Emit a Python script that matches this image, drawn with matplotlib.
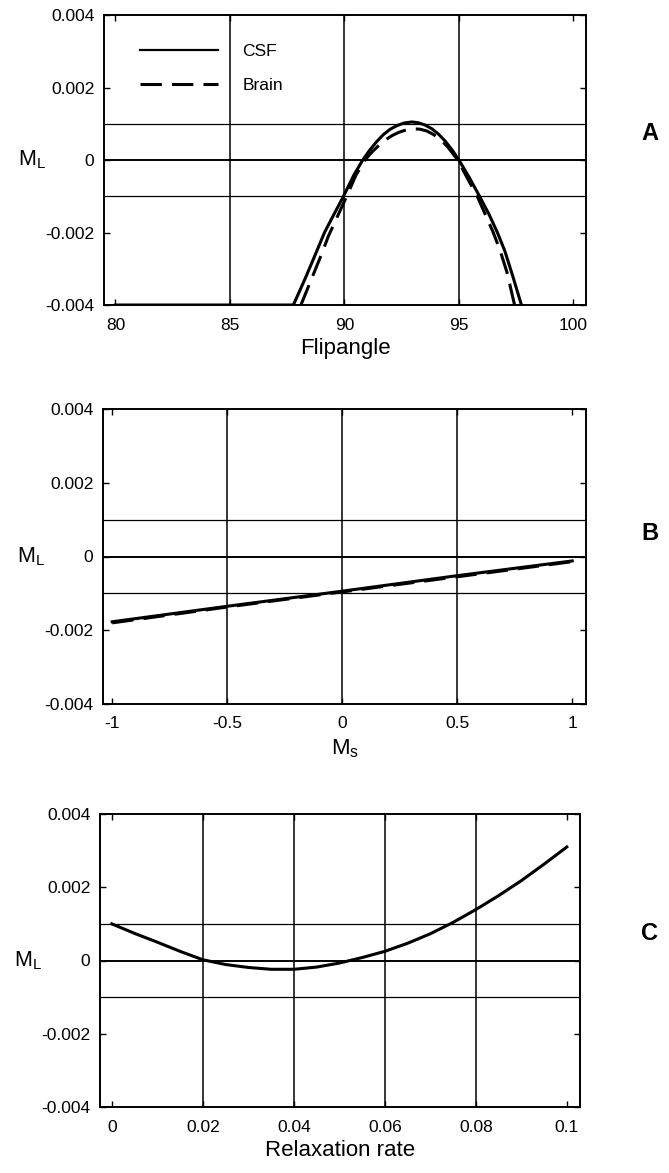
import numpy as np
import matplotlib
matplotlib.use('Agg')
import matplotlib.pyplot as plt
from matplotlib.lines import Line2D

plt.rcParams['font.family'] = ['Liberation Sans', 'DejaVu Sans']
plt.rcParams['mathtext.fontset'] = 'custom'
plt.rcParams['mathtext.rm'] = 'Liberation Sans'
plt.rcParams['mathtext.it'] = 'Liberation Sans'

# ---------------- data (M_L values given in units of 1e-3) ----------------
# Panel A: M_L vs flip angle
flip_csf = [80.0, 87.77, 88.3, 88.8, 89.13, 89.5, 89.96, 90.4, 90.8, 91.1, 91.4, 91.7,
            92.0, 92.3, 92.6, 92.95, 93.2, 93.5, 93.8, 94.1, 94.4, 94.7, 95.0, 95.45,
            95.9, 96.3, 96.68, 97.0, 97.35, 97.73]
ml_csf_a = [-4.0, -4.0, -3.25, -2.5, -2.0, -1.55, -1.0, -0.43, 0.0, 0.27, 0.50, 0.70,
            0.85, 0.95, 1.02, 1.05, 1.03, 0.97, 0.87, 0.72, 0.52, 0.28, 0.0, -0.48,
            -1.0, -1.48, -2.0, -2.5, -3.2, -4.0]
flip_brain = [88.10, 88.55, 89.0, 89.3, 89.7, 90.1, 90.5, 90.9, 91.2, 91.5, 91.8, 92.1,
              92.4, 92.7, 93.0, 93.3, 93.6, 93.9, 94.2, 94.5, 94.95, 95.35, 95.8, 96.15,
              96.5, 96.8, 97.1, 97.43]
ml_brain_a = [-4.0, -3.3, -2.6, -2.1, -1.55, -1.0, -0.42, 0.0, 0.22, 0.40, 0.56, 0.68,
              0.77, 0.83, 0.86, 0.85, 0.80, 0.70, 0.56, 0.37, 0.0, -0.48, -1.0, -1.5,
              -2.0, -2.5, -3.1, -4.0]

# Panel B: M_L vs M_s
ms_vals = [-1.0, -0.5, 0.0, 0.5, 1.0]
ml_csf_b = [-1.77, -1.35, -0.94, -0.52, -0.12]
ml_brain_b = [-1.80, -1.37, -0.96, -0.55, -0.14]

# Panel C: M_L vs relaxation rate
rate = [0.0, 0.005, 0.01, 0.015, 0.02, 0.025, 0.03, 0.035, 0.04, 0.045, 0.05,
        0.055, 0.06, 0.065, 0.07, 0.075, 0.08, 0.085, 0.09, 0.095, 0.1]
ml_c = [1.00, 0.74, 0.50, 0.25, 0.02, -0.11, -0.19, -0.24, -0.24, -0.18, -0.07,
        0.08, 0.25, 0.47, 0.73, 1.04, 1.39, 1.77, 2.18, 2.63, 3.10]

# ticks / labels
yticks = [-0.004, -0.002, 0.0, 0.002, 0.004]
ytick_labels = ['-0.004', '-0.002', '0', '0.002', '0.004']
hlines = [-0.001, 0.0, 0.001]
xticks_a = [80, 85, 90, 95, 100]
xlabels_a = ['80', '85', '90', '95', '100']
xticks_b = [-1, -0.5, 0, 0.5, 1]
xlabels_b = ['-1', '-0.5', '0', '0.5', '1']
xticks_c = [0, 0.02, 0.04, 0.06, 0.08, 0.1]
xlabels_c = ['0', '0.02', '0.04', '0.06', '0.08', '0.1']

milli = 1e-3

W, H = 669, 1173
fig = plt.figure(figsize=(W / 100, H / 100), dpi=100)


def make_ax(left, right, top, bottom):
    return fig.add_axes([left / W, 1 - bottom / H, (right - left) / W, (bottom - top) / H])


axA = make_ax(104, 586, 15, 305)
axB = make_ax(103, 586, 409, 704)
axC = make_ax(100, 580, 814, 1107)

LW = 2.2
TICKFS = 12.5


def style(ax, xticks, xlabels, xlim, xlabel):
    ax.set_ylim(-0.004, 0.004)
    ax.set_xlim(*xlim)
    ax.set_yticks(yticks)
    ax.set_yticklabels(ytick_labels)
    ax.set_xticks(xticks)
    ax.set_xticklabels(xlabels)
    ax.tick_params(direction='in', length=4, width=1, labelsize=TICKFS,
                   top=True, right=True, pad=7)
    ax.tick_params(axis='x', pad=9)
    for s in ax.spines.values():
        s.set_linewidth(1.4)
    for xv in xticks[1:-1]:
        ax.axvline(xv, color='black', lw=1.1, zorder=1)
    for yv in hlines:
        ax.axhline(yv, color='black', lw=1.4 if yv == 0 else 0.9, zorder=1)
    ax.set_xlabel(xlabel, fontsize=16, labelpad=4)
    ax.text(-0.15, 0.5, r'M$_\mathregular{L}$', transform=ax.transAxes,
            fontsize=15.5, ha='center', va='center')


# Panel A
style(axA, xticks_a, xlabels_a, (79.5, 100.55), 'Flipangle')
axA.plot(flip_csf, np.array(ml_csf_a) * milli, color='black', lw=LW,
         solid_joinstyle='round', zorder=3)
axA.plot(flip_brain, np.array(ml_brain_a) * milli, color='black', lw=LW,
         dashes=(7, 3.3), zorder=3)
axA.legend([Line2D([], [], color='black', lw=1.6),
            Line2D([], [], color='black', lw=LW, dashes=(7, 3.3))],
           ['CSF', 'Brain'], loc='upper left', bbox_to_anchor=(0.075, 0.9),
           frameon=False, fontsize=12.5, handlelength=4.5, handletextpad=1.4,
           labelspacing=1.1, borderpad=0, borderaxespad=0)

# Panel B
style(axB, xticks_b, xlabels_b, (-1.04, 1.06), r'M$_\mathregular{s}$')
axB.plot(ms_vals, np.array(ml_csf_b) * milli, color='black', lw=LW, zorder=3)
axB.plot(ms_vals, np.array(ml_brain_b) * milli, color='black', lw=LW,
         dashes=(7, 3.3), zorder=3)

# Panel C
style(axC, xticks_c, xlabels_c, (-0.0026, 0.1029), 'Relaxation rate')
axC.plot(rate, np.array(ml_c) * milli, color='black', lw=LW,
         solid_joinstyle='round', zorder=3)

# panel letters
for letter, ypx in (('A', 133), ('B', 533), ('C', 933)):
    fig.text(650 / W, 1 - ypx / H, letter, fontsize=17, fontweight='bold',
             ha='center', va='center')

fig.savefig('out.png', dpi=100)
